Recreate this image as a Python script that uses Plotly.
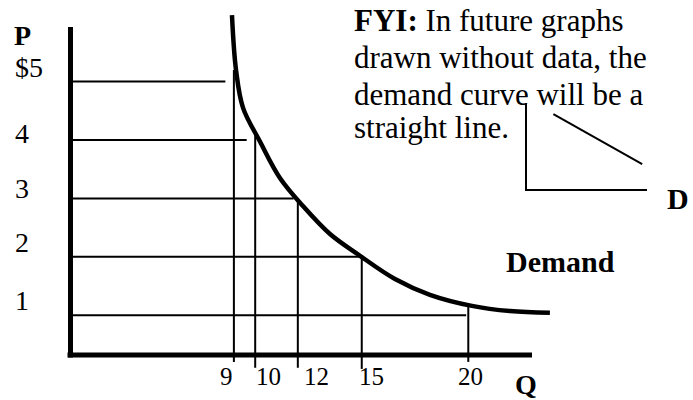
import plotly.graph_objects as go

# ---------------- data ----------------
quantity = [9, 10, 12, 15, 20]
price = [5, 4, 3, 2, 1]
q_tick_labels = ["9", "10", "12", "15", "20"]
p_tick_labels = ["$5", "4", "3", "2", "1"]

# each price line runs from the P axis to this quantity
price_line_end_q = [8.6, 9.6, 11.8, 15.0, 19.9]
# each quantity line runs from this price (top) down past the Q axis
qty_line_top_p = [5.2, 4.1, 3.0, 2.02, 1.15]
qty_line_bottom_p = [0.2, 0.1, 0.1, 0.08, 0.2]

# demand curve as drawn
curve_q = [8.91, 9.10, 9.43, 10.23, 11.16, 12.24, 13.51, 14.87, 16.56, 18.20,
           20.17, 21.96, 23.83]
curve_p = [6.14, 5.20, 4.55, 3.97, 3.35, 2.87, 2.39, 2.03, 1.62, 1.35,
           1.16, 1.07, 1.04]

# small inset sketch: straight-line demand curve
inset_x = [0.22, 0.96]
inset_y = [0.87, 0.29]

fyi_lines = ["<b>FYI:</b> In future graphs", "drawn without data, the",
             "demand curve will be a", "straight line."]

# ---------------- layout helpers ----------------
W, H = 693, 400
FONT = "Liberation Serif, Times New Roman, serif"
X_RANGE = [1.309, 24.069]
Y_RANGE = [0.0616, 6.226]
PL, PR, PT, PB = 70, 555, 10, 370  # main plot area in pixels


def fx(px):
    return px / W


def fy(py):
    return 1 - py / H


fig = go.Figure()

# price lines
hx, hy = [], []
for p, qe in zip(price, price_line_end_q):
    hx += [X_RANGE[0], qe, None]
    hy += [p, p, None]
fig.add_trace(go.Scatter(x=hx, y=hy, mode="lines", line=dict(color="black", width=2),
                         hoverinfo="skip", showlegend=False))

# quantity lines
vx, vy = [], []
for q, top, bot in zip(quantity, qty_line_top_p, qty_line_bottom_p):
    vx += [q, q, None]
    vy += [top, bot, None]
fig.add_trace(go.Scatter(x=vx, y=vy, mode="lines", line=dict(color="black", width=2),
                         hoverinfo="skip", showlegend=False))

# demand curve
fig.add_trace(go.Scatter(x=curve_q, y=curve_p, mode="lines",
                         line=dict(color="black", width=4.5, shape="spline", smoothing=1.0),
                         hoverinfo="skip", showlegend=False))

# inset straight line
fig.add_trace(go.Scatter(x=inset_x, y=inset_y, mode="lines", xaxis="x2", yaxis="y2",
                         line=dict(color="black", width=2), hoverinfo="skip", showlegend=False))

hidden = dict(showgrid=False, zeroline=False, showticklabels=False, ticks="", showline=False)

fig.update_layout(
    width=W, height=H,
    margin=dict(l=0, r=0, t=0, b=0),
    paper_bgcolor="white", plot_bgcolor="rgba(0,0,0,0)",
    xaxis=dict(domain=[fx(PL), fx(PR)], range=X_RANGE, **hidden),
    yaxis=dict(domain=[fy(PB), fy(PT)], range=Y_RANGE, **hidden),
    xaxis2=dict(domain=[fx(527), fx(647)], range=[0, 1], anchor="y2",
                showgrid=False, zeroline=False, showticklabels=False, ticks="",
                showline=True, linecolor="black", linewidth=2),
    yaxis2=dict(domain=[fy(189), fy(103)], range=[0, 1], anchor="x2",
                showgrid=False, zeroline=False, showticklabels=False, ticks="",
                showline=True, linecolor="black", linewidth=2),
    showlegend=False,
)

# main axis lines (thick)
fig.add_shape(type="line", xref="paper", yref="paper",
              x0=fx(67.5), x1=fx(532), y0=fy(355), y1=fy(355),
              line=dict(color="black", width=5))
fig.add_shape(type="line", xref="paper", yref="paper",
              x0=fx(70.5), x1=fx(70.5), y0=fy(357.5), y1=fy(27),
              line=dict(color="black", width=5))

ann = []
# price labels
p_shift = [14.6, 6.5, 9.9, 14.3, 14.7]
for p, t, s in zip(price, p_tick_labels, p_shift):
    ann.append(dict(text=t, x=fx(14), xref="paper", xanchor="left", y=p, yref="y",
                    yanchor="middle", yshift=s, showarrow=False, borderpad=0,
                    font=dict(family=FONT, size=28, color="black")))
# quantity labels
q_shift = [-7.2, 12.8, 18.2, 10.2, 2.2]
for q, t, s in zip(quantity, q_tick_labels, q_shift):
    ann.append(dict(text=t, x=q, xref="x", xanchor="center", xshift=s,
                    y=fy(376.5), yref="paper", yanchor="middle", showarrow=False,
                    font=dict(family=FONT, size=25, color="black")))
# axis titles and labels
bold = dict(family=FONT, size=30, color="black")
ann.append(dict(text="<b>P</b>", x=fx(22.5), y=fy(35), xref="paper", yref="paper",
                xanchor="center", yanchor="middle", showarrow=False, borderpad=0,
                font=dict(family=FONT, size=28, color="black")))
ann.append(dict(text="<b>Q</b>", x=fx(525.5), y=fy(384), xref="paper", yref="paper",
                xanchor="center", yanchor="middle", showarrow=False,
                font=dict(family=FONT, size=28, color="black")))
ann.append(dict(text="<b>Demand</b>", x=fx(560), y=fy(261.7), xref="paper", yref="paper",
                xanchor="center", yanchor="middle", showarrow=False, font=bold))
ann.append(dict(text="<b>D</b>", x=fx(677.5), y=fy(198), xref="paper", yref="paper",
                xanchor="center", yanchor="middle", showarrow=False, font=bold))
# FYI note
for line, cy in zip(fyi_lines, [20.2, 57.8, 94.5, 127.8]):
    ann.append(dict(text=line, x=fx(352), y=fy(cy), xref="paper", yref="paper",
                    xanchor="left", yanchor="middle", showarrow=False,
                    font=dict(family=FONT, size=31, color="black")))

fig.update_layout(annotations=ann)

fig.write_html("out.html", config={"displayModeBar": False},
               post_script="document.body.style.margin='0px';")
